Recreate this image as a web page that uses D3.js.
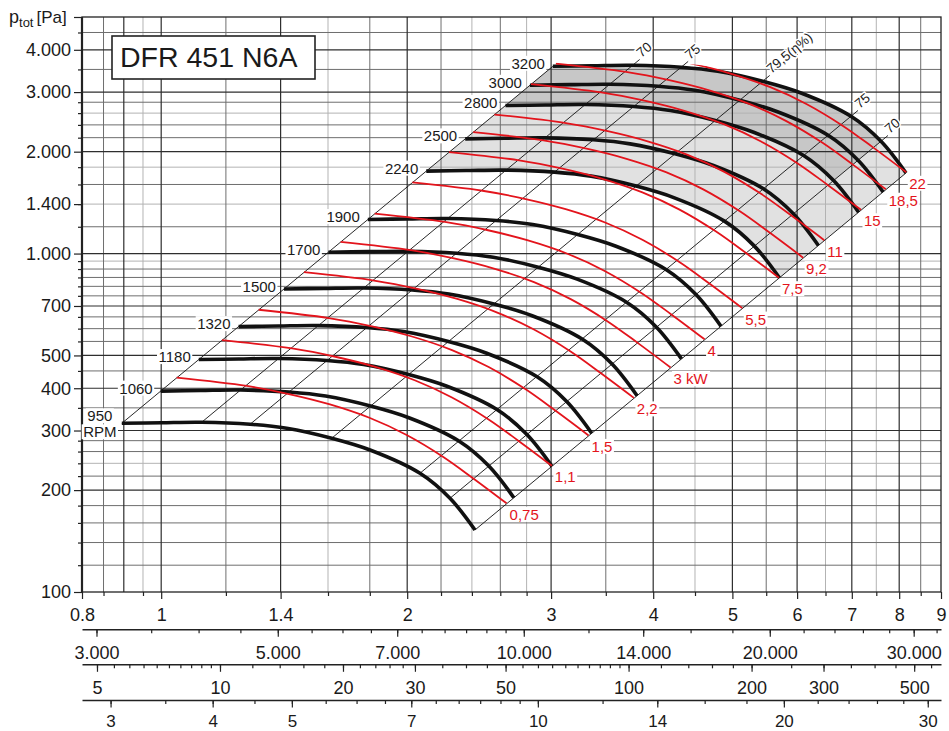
<!DOCTYPE html>
<html><head><meta charset="utf-8">
<script src="https://cdn.jsdelivr.net/npm/d3@7"></script>
<style>
body{margin:0;background:#fff;}
svg text{font-family:"Liberation Sans",Arial,Helvetica,sans-serif;}
</style></head><body>
<svg id="c" width="949" height="731"></svg>
<script>
// ---------- data ----------
const flowTicks = [0.8,1,1.4,2,3,4,5,6,7,8,9];
const flowGridDark = [0.9,1,1.4,2,3,4,5,6,7,8];
const flowGridMid = [0.85,1.2,1.8,2.2,2.6,3.5,5.5,8.5];
const flowGridLight = [0.95,1.6,2.4,2.8,4.5,6.5,7.5];
const pressTicks = [100,200,300,400,500,700,1000,1400,2000,3000,4000];
const pressTickLabels = ["100","200","300","400","500","700","1.000","1.400","2.000","3.000","4.000"];
const pressGridDark = [200,300,400,500,700,1000,2000,3000,4000];
const pressGridMid = [120,140,160,180,220,260,280,350,450,550,600,650,750,800,850,900,1200,1600,2200,2400,2800,3500,4500];
const pressGridLight = [240,950,1400,1800,2600];
const m3hTicks = [3000,3500,4000,4500,5000,5500,6000,6500,7000,7500,8000,8500,9000,9500,10000,12000,14000,16000,18000,20000,22000,24000,26000,28000,30000,32000];
const m3hLabels = [3000,5000,7000,10000,14000,20000,30000];
const pdTicks = [5,5.5,6,6.5,7,7.5,8,8.5,9,9.5,10,12,14,16,18,20,22,24,26,28,30,35,40,45,50,55,60,65,70,75,80,85,90,95,100,120,140,160,180,200,250,300,350,400,450,500,550];
const pdLabels = [5,10,20,30,50,100,200,300,500];
const velTicks = [3,3.5,4,4.5,5,5.5,6,6.5,7,7.5,8,8.5,9,9.5,10,12,14,16,18,20,22,24,26,28,30];
const velLabels = [3,4,5,7,10,14,20,30];
const M3H_PER_M3S = 3600, PD_COEF = 7.18, VEL_COEF = 3.46;

// fan curve read at 950 rpm (flow m3/s, total pressure Pa)
const rpm = [950,1060,1180,1320,1500,1700,1900,2240,2500,2800,3000,3200];
const curveQ950 = [0.895,1.0015,1.1207,1.2847,1.4242,1.6166,1.801,2.0734,2.2562,2.421];
const curveP950 = [315.1,316.4,317.3,313.1,304.6,284.6,262.8,224.3,189.2,152.5];
// motor power line read at 0.75 kW
const powerKW = [0.75,1.1,1.5,2.2,3,4,5.5,7.5,9.2,11,15,18.5,22];
const powerLabels = ["0,75","1,1","1,5","2,2","3 kW","4","5,5","7,5","9,2","11","15","18,5","22"];
const lineQ075 = [1.0445,1.2728,1.4376,1.6089,1.801,1.9971,2.2141,2.4095,2.6461];
const lineP075 = [429.8,406.2,383.9,358.3,326.7,291.0,250.6,216.5,182.8];
// efficiency lines (start on 950 rpm curve)
const effQ950 = [1.1207,1.2847,1.6166,2.0734,2.2562];
const effP950 = [317.3,313.1,284.6,224.3,189.2];
const effLabels = ["70","75","79,5(η%)","75","70"];

// ---------- drawing ----------
const svg = d3.select("#c");
const FONT = '"Liberation Sans", Arial, Helvetica, sans-serif';
const INK = "#1a1a1a", RED = "#e3141c";
const L=82, R=941, T=17, B=592;
const x = d3.scaleLog().domain([0.8,9]).range([L,R]);
const y = d3.scaleLog().domain([100,5000]).range([B,T]);
const xh = d3.scaleLog().domain([0.8*M3H_PER_M3S,9*M3H_PER_M3S]).range([L,R]);
const xpd = d3.scaleLog().domain([PD_COEF*0.64,PD_COEF*81]).range([L,R]);
const xv = d3.scaleLog().domain([0.8*VEL_COEF,9*VEL_COEF]).range([L,R]);
const dotFmt = d3.formatLocale({decimal:",",thousands:".",grouping:[3],currency:["",""]}).format(",");

const lineGen = d3.line().x(d=>x(d[0])).y(d=>y(d[1])).curve(d3.curveCatmullRom.alpha(0.5));
const base950 = curveQ950.map((q,i)=>[q,curveP950[i]]);
const fanAt = n => { const k=n/950; return base950.map(([q,p])=>[q*k,p*k*k]); };
const base075 = lineQ075.map((q,i)=>[q,lineP075[i]]);
const powerAt = P => { const k=Math.cbrt(P/0.75); return base075.map(([q,p])=>[q*k,p*k*k]); };
const revPath = pts => lineGen(pts.slice().reverse()).replace(/^M/,"L");

const gFill = svg.append("g"), gGrid = svg.append("g"), gAxes = svg.append("g"),
      gDiag = svg.append("g"), gBlack = svg.append("g"), gRed = svg.append("g"), gLab = svg.append("g");

// fills
const c2240 = fanAt(2240), c2800 = fanAt(2800), c3200 = fanAt(3200);
const iEff = curveQ950.indexOf(effQ950[4]);
gFill.append("path").attr("d", lineGen(c3200)+revPath(c2240)+"Z").attr("fill","#e1e1e1");
gFill.append("path").attr("d", lineGen(c3200.slice(0,iEff+1))+revPath(c2800.slice(0,iEff+1))+"Z").attr("fill","#c7c7c7");

// grid
function vgrid(vals,color,w){ gGrid.selectAll(null).data(vals).enter().append("line")
  .attr("x1",d=>x(d)).attr("x2",d=>x(d)).attr("y1",T).attr("y2",B).attr("stroke",color).attr("stroke-width",w); }
function hgrid(vals,color,w){ gGrid.selectAll(null).data(vals).enter().append("line")
  .attr("y1",d=>y(d)).attr("y2",d=>y(d)).attr("x1",L).attr("x2",R).attr("stroke",color).attr("stroke-width",w); }
vgrid(flowGridLight,"#b3b3b3",1); hgrid(pressGridLight,"#b3b3b3",1);
vgrid(flowGridMid,"#6e6e6e",1); hgrid(pressGridMid,"#6e6e6e",1);
vgrid(flowGridDark,"#2e2e2e",1.2); hgrid(pressGridDark,"#2e2e2e",1.2);
gGrid.append("rect").attr("x",L).attr("y",T).attr("width",R-L).attr("height",B-T)
  .attr("fill","none").attr("stroke","#222").attr("stroke-width",1.3);
gGrid.append("line").attr("x1",L).attr("x2",L).attr("y1",T).attr("y2",B).attr("stroke","#222").attr("stroke-width",2.2);

// axes
function styleAxis(size){ return g => { g.attr("font-size",size).attr("font-family",FONT);
  g.selectAll("text").style("fill",INK);
  g.selectAll(".tick line").attr("stroke","#222").attr("stroke-width",1.2); }; }
const pressMinor = pressGridMid.concat(pressGridLight);
gAxes.append("g").attr("transform",`translate(${L},0)`)
  .call(d3.axisLeft(y).tickValues(pressMinor).tickSize(4).tickFormat("").tickSizeOuter(0))
  .call(g=>g.select(".domain").remove()).call(styleAxis(18));
gAxes.append("g").attr("transform",`translate(${L},0)`)
  .call(d3.axisLeft(y).tickValues(pressTicks.concat([5000])).tickSize(8).tickPadding(3).tickSizeOuter(0)
    .tickFormat((d,i)=>pressTickLabels[i]||""))
  .call(g=>g.select(".domain").remove()).call(styleAxis(18));

gAxes.append("g").attr("transform",`translate(0,${B})`)
  .call(d3.axisBottom(x).tickValues(flowGridMid.concat(flowGridLight)).tickSize(4).tickFormat("").tickSizeOuter(0))
  .call(g=>g.select(".domain").remove()).call(styleAxis(18));
gAxes.append("g").attr("transform",`translate(0,${B})`)
  .call(d3.axisBottom(x).tickValues(flowTicks).tickSize(7).tickPadding(9.5).tickSizeOuter(0).tickFormat(d=>String(d)))
  .call(g=>g.select(".domain").remove()).call(styleAxis(18));

function scaleRow(scale, minor, major, fmt, yy, size, pad){
  gAxes.append("g").attr("transform",`translate(0,${yy})`)
    .call(d3.axisBottom(scale).tickValues(minor).tickSize(4).tickFormat("").tickSizeOuter(0))
    .call(g=>g.select(".domain").attr("stroke","#222").attr("stroke-width",1.4)).call(styleAxis(size));
  gAxes.append("g").attr("transform",`translate(0,${yy})`)
    .call(d3.axisBottom(scale).tickValues(major).tickSize(7.5).tickPadding(pad).tickSizeOuter(0).tickFormat(fmt))
    .call(g=>g.select(".domain").remove()).call(styleAxis(size));
}
scaleRow(xh, m3hTicks, m3hLabels, d=>dotFmt(d), 629.3, 18, 9);
scaleRow(xpd, pdTicks, pdLabels, d=>String(d), 664.3, 18, 9);
scaleRow(xv, velTicks, velLabels, d=>String(d), 700, 17, 7.5);

// diagonals
const k32 = 3200/950;
const first = base950[0], last = base950[base950.length-1];
[[first,k32],[last,k32]].concat(effQ950.map((q,i)=>[[q,effP950[i]],k32*1.02])).forEach(([pt,k])=>{
  gDiag.append("line").attr("x1",x(pt[0])).attr("y1",y(pt[1]))
    .attr("x2",x(pt[0]*k)).attr("y2",y(pt[1]*k*k)).attr("stroke","#111").attr("stroke-width",0.9);
});
const ang = -Math.atan(2*(y(100)-y(1000))/(x(10)-x(1)))*180/Math.PI;
effQ950.forEach((q,i)=>{
  const k=k32*1.02, px=x(q*k)+1.5, py=y(effP950[i]*k*k)-1.5;
  gLab.append("text").attr("transform",`translate(${px},${py}) rotate(${ang})`)
    .attr("font-size",13.5).attr("stroke","#fff").attr("stroke-width",3).attr("paint-order","stroke")
    .style("fill",INK).text(effLabels[i]);
});

// fan curves
rpm.forEach(n=>{
  gBlack.append("path").attr("d",lineGen(fanAt(n))).attr("fill","none").attr("stroke","#111").attr("stroke-width",3.6);
});

// power lines, clipped below the top curve
const topLift = c3200.map(([q,p])=>[q,p*1.025]);
const yS = y(topLift[0][1]), yE = y(topLift[topLift.length-1][1]);
svg.append("defs").append("clipPath").attr("id","rc").append("path")
  .attr("d", lineGen(topLift)+`L949,${yE}L949,731L0,731L0,${yS}Z`);
powerKW.forEach(P=>{
  gRed.append("path").attr("d",lineGen(powerAt(P))).attr("fill","none")
    .attr("stroke",RED).attr("stroke-width",1.8).attr("clip-path","url(#rc)");
});

function bgText(g, tx, ty, str, anchor, size, color){
  const t = g.append("text").attr("x",tx).attr("y",ty).attr("text-anchor",anchor)
    .attr("dominant-baseline","central").attr("font-size",size).style("fill",color||INK).text(str);
  const b = t.node().getBBox();
  g.insert("rect", ()=>t.node()).attr("x",b.x-1.5).attr("y",b.y+1).attr("width",b.width+3).attr("height",b.height-2).attr("fill","#fff");
  return t;
}
// rpm labels
rpm.forEach((n,i)=>{
  const s = fanAt(n)[0], sx=x(s[0]), sy=y(s[1]);
  if(i===0){
    bgText(gLab, sx-22, sy-7.5, String(n), "middle", 15);
    bgText(gLab, sx-22, sy+8.5, "RPM", "middle", 15);
  } else {
    bgText(gLab, sx-8, sy-3, String(n), "end", 15);
  }
});
// power labels
powerKW.forEach((P,i)=>{
  const pts = powerAt(P), e = pts[pts.length-1];
  bgText(gLab, x(e[0])+3, y(e[1])+11, powerLabels[i], "start", 15, RED);
});

// y title
const yt = svg.append("text").attr("x",9).attr("y",23).attr("font-size",18).style("fill",INK);
yt.append("tspan").text("p");
yt.append("tspan").attr("font-size",13).attr("dy",4).text("tot");
yt.append("tspan").attr("font-size",17).attr("dy",-4).attr("dx",3).text("[Pa]");

// title box
svg.append("rect").attr("x",112).attr("y",36).attr("width",203).attr("height",43)
  .attr("fill","#fff").attr("stroke","#222").attr("stroke-width",1.6);
svg.append("text").attr("x",120).attr("y",67).attr("font-size",28.5).style("fill",INK).text("DFR 451 N6A");
</script>
</body></html>
